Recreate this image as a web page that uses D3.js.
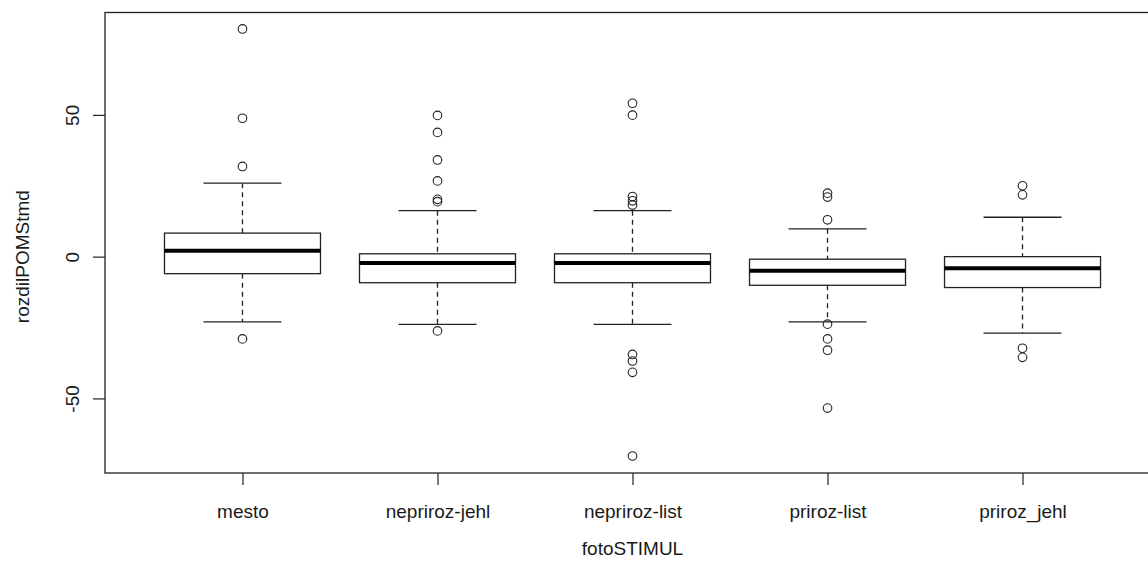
<!DOCTYPE html>
<html>
<head>
<meta charset="utf-8">
<script src="https://cdn.jsdelivr.net/npm/d3@7"></script>
<style>
  body { margin: 0; background: #fff; }
  svg text { font-family: "Liberation Sans", Arial, sans-serif; fill: #1a1a1a; }
</style>
</head>
<body>
<svg id="chart" width="1148" height="572"></svg>
<script>
const width = 1148, height = 572;
const svg = d3.select("#chart");

// Groups and box statistics
const categories = ["mesto", "nepriroz-jehl", "nepriroz-list", "priroz-list", "priroz_jehl"];
const whiskerLow = [-23.0, -23.9, -23.9, -23.0, -27.0];
const lowerQuartile = [-6.0, -9.2, -9.2, -10.1, -10.9];
const medians = [2.1, -2.2, -2.2, -5.0, -4.1];
const upperQuartile = [8.3, 1.0, 1.0, -0.9, 0.0];
const whiskerHigh = [25.9, 16.2, 16.2, 9.8, 13.9];
const outliers = [
    [80.3, 48.8, 31.8, -29.0],
    [49.8, 43.8, 34.1, 26.7, 20.2, 19.4, -26.2],
    [54.1, 49.9, 21.2, 19.7, 18.2, -34.5, -36.8, -40.8, -70.3],
    [22.4, 21.0, 13.0, -23.8, -29.0, -33.0, -53.4],
    [25.0, 21.8, -32.3, -35.5]
];
const yTicks = [-50, 0, 50];

const margin = { left: 105, top: 12.5, bottom: 473 };
const plotRight = 1160;
const fontSize = "19px";

// x positions 1..5, plot spans a bit beyond the usual 0.5 padding
const x = d3.scaleLinear().domain([0.295, 5.705]).range([margin.left, plotRight]);
const y = d3.scaleLinear().domain([-76.3, 86.1]).range([margin.bottom, margin.top]);

const boxHalf = 78, capHalf = 39;

// frame
svg.append("rect")
    .attr("x", margin.left).attr("y", margin.top)
    .attr("width", plotRight - margin.left).attr("height", margin.bottom - margin.top)
    .attr("fill", "none").attr("stroke", "#222").attr("stroke-width", 1.3);

// y axis
const yAxis = svg.append("g")
    .attr("transform", `translate(${margin.left},0)`)
    .call(d3.axisLeft(y).tickValues(yTicks).tickSize(12).tickFormat(d => String(d)));
yAxis.select(".domain").remove();
yAxis.selectAll(".tick line").attr("stroke", "#222").attr("stroke-width", 1.2);
yAxis.selectAll(".tick text")
    .attr("x", 0).attr("dy", null)
    .attr("transform", "translate(-33,0) rotate(-90)")
    .style("text-anchor", "middle")
    .attr("dominant-baseline", "central")
    .style("font-size", fontSize);

// x axis
const xAxis = svg.append("g")
    .attr("transform", `translate(0,${margin.bottom})`)
    .call(d3.axisBottom(x).tickValues(d3.range(1, categories.length + 1)).tickSize(12)
        .tickFormat(i => categories[i - 1]));
xAxis.select(".domain").remove();
xAxis.selectAll(".tick line").attr("stroke", "#222").attr("stroke-width", 1.2);
xAxis.selectAll(".tick text").attr("y", 32).attr("dy", "0.71em").style("font-size", fontSize);

// axis titles
svg.append("text").attr("x", x(3)).attr("y", 555)
    .style("text-anchor", "middle").style("font-size", fontSize).text("fotoSTIMUL");
svg.append("text").attr("transform", `translate(22,${y(0)}) rotate(-90)`)
    .style("text-anchor", "middle").attr("dominant-baseline", "central")
    .style("font-size", fontSize).text("rozdilPOMStmd");

// boxes
const groups = svg.append("g").selectAll("g")
    .data(categories.map((c, i) => ({
        pos: i + 1, lo: whiskerLow[i], q1: lowerQuartile[i], med: medians[i],
        q3: upperQuartile[i], hi: whiskerHigh[i], out: outliers[i]
    })))
    .join("g");

groups.append("line")
    .attr("x1", d => x(d.pos)).attr("x2", d => x(d.pos))
    .attr("y1", d => y(d.hi)).attr("y2", d => y(d.q3))
    .attr("stroke", "#222").attr("stroke-width", 1.3).attr("stroke-dasharray", "5,4");
groups.append("line")
    .attr("x1", d => x(d.pos)).attr("x2", d => x(d.pos))
    .attr("y1", d => y(d.q1)).attr("y2", d => y(d.lo))
    .attr("stroke", "#222").attr("stroke-width", 1.3).attr("stroke-dasharray", "5,4");

groups.selectAll(".cap")
    .data(d => [d.lo, d.hi].map(v => ({ pos: d.pos, v })))
    .join("line")
    .attr("x1", d => x(d.pos) - capHalf).attr("x2", d => x(d.pos) + capHalf)
    .attr("y1", d => y(d.v)).attr("y2", d => y(d.v))
    .attr("stroke", "#222").attr("stroke-width", 1.3);

groups.append("rect")
    .attr("x", d => x(d.pos) - boxHalf).attr("width", boxHalf * 2)
    .attr("y", d => y(d.q3)).attr("height", d => y(d.q1) - y(d.q3))
    .attr("fill", "#fff").attr("stroke", "#222").attr("stroke-width", 1.3);

groups.append("line")
    .attr("x1", d => x(d.pos) - boxHalf).attr("x2", d => x(d.pos) + boxHalf)
    .attr("y1", d => y(d.med)).attr("y2", d => y(d.med))
    .attr("stroke", "#000").attr("stroke-width", 4);

groups.selectAll("circle")
    .data(d => d.out.map(v => ({ pos: d.pos, v })))
    .join("circle")
    .attr("cx", d => x(d.pos)).attr("cy", d => y(d.v)).attr("r", 4.3)
    .attr("fill", "none").attr("stroke", "#222").attr("stroke-width", 1.1);
</script>
</body>
</html>
